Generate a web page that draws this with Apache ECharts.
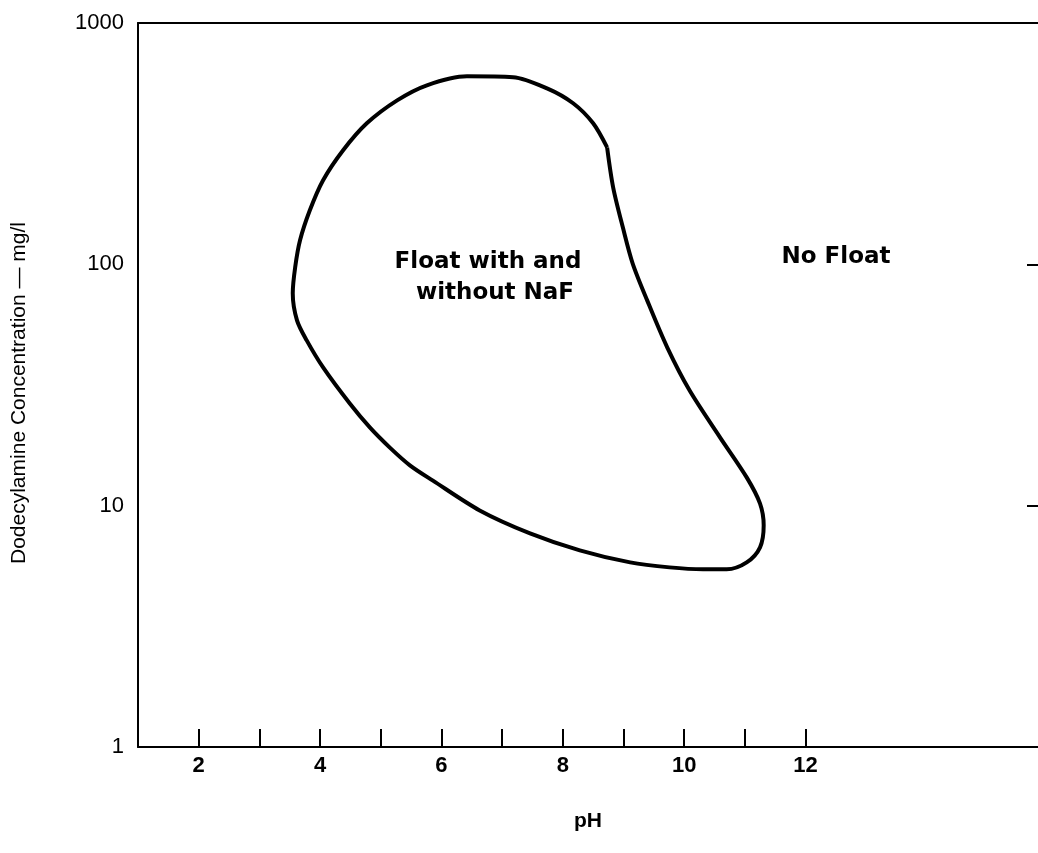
<!DOCTYPE html>
<html>
<head>
<meta charset="utf-8">
<title>Dodecylamine flotation region vs pH</title>
<script src="https://cdn.jsdelivr.net/npm/echarts@6/dist/echarts.min.js"></script>
<style>
    html, body { margin: 0; padding: 0; background: #fff; }
    #chart { width: 1038px; height: 853px; }
</style>
</head>
<body>
<div id="chart"></div>
<script>
// boundary of the float region, traced clockwise from the corner at the top right
const boundaryPH = [
    8.73, 8.83, 8.99, 9.15, 9.39, 9.72, 10.09, 10.59, 11.03, 11.25, 11.31, 11.25,
    11.03, 10.70, 10.31, 9.76, 9.11, 8.28, 7.46, 6.63, 5.86, 5.48, 5.15, 4.82, 4.49,
    4.05, 3.78, 3.62, 3.55, 3.59, 3.67, 3.83, 4.05, 4.38, 4.77, 5.27, 5.76, 6.42, 7.18,
    7.74, 8.17, 8.50, 8.73
];
const boundaryConc = [
    305, 208, 142, 101, 70.9, 45.3, 30.0, 19.2, 13.1, 10.2, 8.29, 6.72,
    5.82, 5.45, 5.45, 5.55, 5.82, 6.53, 7.68, 9.56, 12.7, 14.7, 17.4, 21.1, 26.5,
    37.4, 48.4, 58.6, 75.9, 97.2, 125.7, 167, 223, 297, 384, 478, 552, 601, 596,
    536, 465, 384, 305
];

const xTicks = [2, 3, 4, 5, 6, 7, 8, 9, 10, 11, 12];
const xLabels = [2, 4, 6, 8, 10, 12];
const yLabels = [1, 10, 100, 1000];
const rightTicks = [10, 100];

const chart = echarts.init(document.getElementById('chart'));

const font = 'Liberation Sans, Arial, sans-serif';
const boldFont = 'DejaVu Sans, sans-serif';

const options = {
    backgroundColor: '#fff',
    animation: false,
    grid: {
        left: 138,
        right: 0,
        top: 23,
        bottom: 106
    },
    xAxis: [{
        type: 'value',
        min: 1,
        max: 15.83,
        name: 'pH',
        nameLocation: 'middle',
        nameGap: 64,
        nameTextStyle: {color: '#000', fontSize: 21, fontWeight: 'bold', fontFamily: font},
        axisLine: {show: true, lineStyle: {color: '#000', width: 2}},
        axisTick: {
            show: true,
            inside: true,
            length: 18,
            customValues: xTicks,
            lineStyle: {color: '#000', width: 2}
        },
        axisLabel: {
            customValues: xLabels,
            color: '#000',
            fontSize: 22,
            fontWeight: 'bold',
            fontFamily: font,
            margin: 8
        },
        splitLine: {show: false}
    }, {
        type: 'value',
        position: 'top',
        min: 1,
        max: 15.83,
        axisLine: {show: true, lineStyle: {color: '#000', width: 2}},
        axisTick: {show: false},
        axisLabel: {show: false},
        splitLine: {show: false}
    }],
    yAxis: [{
        type: 'log',
        logBase: 10,
        min: 1,
        max: 1000,
        name: 'Dodecylamine Concentration \u2014 mg/l',
        nameLocation: 'middle',
        nameGap: 108,
        nameTextStyle: {
            color: '#000',
            fontSize: 21,
            fontFamily: font,
            padding: [0, 16, 0, 0]
        },
        axisLine: {show: true, lineStyle: {color: '#000', width: 2}},
        axisTick: {show: false},
        axisLabel: {
            customValues: yLabels,
            formatter: v => String(v),
            color: '#000',
            fontSize: 22,
            fontFamily: font,
            margin: 14
        },
        splitLine: {show: false}
    }, {
        type: 'log',
        logBase: 10,
        position: 'right',
        min: 1,
        max: 1000,
        axisLine: {show: false},
        axisTick: {
            show: true,
            inside: true,
            length: 11,
            customValues: rightTicks,
            lineStyle: {color: '#000', width: 2}
        },
        axisLabel: {show: false},
        splitLine: {show: false}
    }],
    series: [{
        name: 'Float region',
        type: 'line',
        data: boundaryPH.map((ph, i) => [ph, boundaryConc[i]]),
        smooth: 0.3,
        symbol: 'none',
        lineStyle: {color: '#000', width: 4},
        silent: true
    }],
    graphic: [{
        type: 'text',
        style: {
            text: 'Float with and',
            x: 488, y: 262,
            align: 'center',
            verticalAlign: 'middle',
            font: 'bold 23px ' + boldFont,
            fill: '#000'
        }
    }, {
        type: 'text',
        style: {
            text: 'without NaF',
            x: 495, y: 293,
            align: 'center',
            verticalAlign: 'middle',
            font: 'bold 23px ' + boldFont,
            fill: '#000'
        }
    }, {
        type: 'text',
        style: {
            text: 'No Float',
            x: 836, y: 257,
            align: 'center',
            verticalAlign: 'middle',
            font: 'bold 23px ' + boldFont,
            fill: '#000'
        }
    }]
};

chart.setOption(options);
</script>
</body>
</html>
